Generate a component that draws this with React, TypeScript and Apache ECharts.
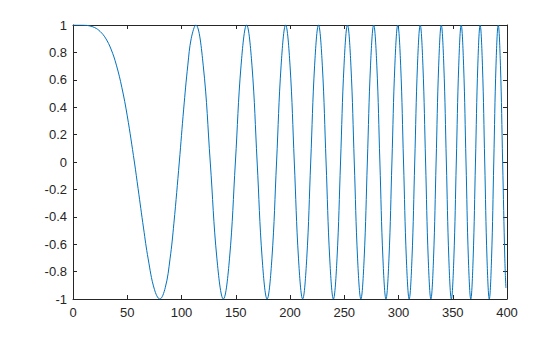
import React, { useEffect, useRef } from "react";
import * as echarts from "echarts";

// x positions (extrema, quarter points, zero crossings)
const xValues: number[] = [
  0, 10, 15, 20, 25, 30, 35, 40, 45, 50, 56.57, 60, 65, 69.28, 75, 80,
  85, 89.44, 93, 97.98, 102, 105.83, 109, 113.14, // 1
  120, 126.49, 132.66, 138.56, // 2
  144.22, 149.67, 154.92, 160, // 3
  164.92, 169.71, 174.36, 178.89, // 4
  183.3, 187.62, 191.83, 195.96, // 5
  200, 203.96, 207.85, 211.66, // 6
  215.41, 219.09, 222.71, 226.27, // 7
  229.78, 233.24, 236.64, 240, // 8
  243.31, 246.58, 249.8, 252.98, // 9
  256.12, 259.23, 262.3, 265.33, // 10
  268.33, 271.29, 274.23, 277.13, // 11
  280, 282.84, 285.66, 288.44, // 12
  291.2, 293.94, 296.65, 299.33, // 13
  301.99, 304.63, 307.25, 309.84, // 14
  312.41, 314.96, 317.49, 320, // 15
  322.49, 324.96, 327.41, 329.85, // 16
  332.27, 334.66, 337.05, 339.41, // 17
  341.76, 344.1, 346.41, 348.71, // 18
  351, 353.27, 355.53, 357.77, // 19
  360, 362.22, 364.42, 366.61, // 20
  368.78, 370.94, 373.1, 375.23, // 21
  377.36, 379.47, 381.58, 383.67, // 22
  385.75, 387.81, 389.87, 391.92, // 23
  393.95, 395.98, 397.99, 399, // 24
];

const yValues: number[] = [
  1, 0.999, 0.994, 0.981, 0.953, 0.904, 0.825, 0.707, 0.545, 0.337, 0, -0.195, -0.482, -0.707, -0.929, -1,
  -0.918, -0.707, -0.447, 0, 0.386, 0.707, 0.903, 1, // 1
  0.707, 0, -0.707, -1, // 2
  -0.707, 0, 0.707, 1, // 3
  0.707, 0, -0.707, -1, // 4
  -0.707, 0, 0.707, 1, // 5
  0.707, 0, -0.707, -1, // 6
  -0.707, 0, 0.707, 1, // 7
  0.707, 0, -0.707, -1, // 8
  -0.707, 0, 0.707, 1, // 9
  0.707, 0, -0.707, -1, // 10
  -0.707, 0, 0.707, 1, // 11
  0.707, 0, -0.707, -1, // 12
  -0.707, 0, 0.707, 1, // 13
  0.707, 0, -0.707, -1, // 14
  -0.707, 0, 0.707, 1, // 15
  0.707, 0, -0.707, -1, // 16
  -0.707, 0, 0.707, 1, // 17
  0.707, 0, -0.707, -1, // 18
  -0.707, 0, 0.707, 1, // 19
  0.707, 0, -0.707, -1, // 20
  -0.707, 0, 0.707, 1, // 21
  0.707, 0, -0.707, -1, // 22
  -0.707, 0, 0.707, 1, // 23
  0.707, 0, -0.707, -0.92, // 24
];

const xTicks = { min: 0, max: 400, interval: 50 };
const yTicks = { min: -1, max: 1, interval: 0.2 };

const AXIS_COLOR = "#262626";
const FONT = "'Liberation Sans', Arial, Helvetica, sans-serif";

export default function App() {
  const ref = useRef<HTMLDivElement>(null);

  useEffect(() => {
    if (!ref.current) return;
    const chart = echarts.init(ref.current, undefined, { renderer: "svg" });
    const data = xValues.map((x, i) => [x, yValues[i]]);
    const axisLine = { show: true, onZero: false, lineStyle: { color: AXIS_COLOR, width: 1 } };
    const axisTick = { show: true, inside: true, length: 4, lineStyle: { color: AXIS_COLOR, width: 1 } };
    const label = { color: AXIS_COLOR, fontSize: 13, fontFamily: FONT };
    chart.setOption({
      animation: false,
      backgroundColor: "#ffffff",
      grid: { left: 73, right: 53, top: 25, bottom: 38 },
      xAxis: [
        {
          type: "value",
          ...xTicks,
          position: "bottom",
          axisLine,
          axisTick,
          splitLine: { show: false },
          axisLabel: { ...label, margin: 7 },
        },
        {
          type: "value",
          ...xTicks,
          position: "top",
          axisLine,
          axisTick,
          splitLine: { show: false },
          axisLabel: { show: false },
        },
      ],
      yAxis: [
        {
          type: "value",
          ...yTicks,
          position: "left",
          axisLine,
          axisTick,
          splitLine: { show: false },
          axisLabel: { ...label, margin: 6 },
        },
        {
          type: "value",
          ...yTicks,
          position: "right",
          axisLine,
          axisTick,
          splitLine: { show: false },
          axisLabel: { show: false },
        },
      ],
      series: [
        {
          type: "line",
          data,
          showSymbol: false,
          smooth: 0.4,
          lineStyle: { color: "#0072BD", width: 1 },
          itemStyle: { color: "#0072BD" },
        },
      ],
    });
    return () => chart.dispose();
  }, []);

  return <div ref={ref} style={{ width: 560, height: 337, margin: -8 }} />;
}
